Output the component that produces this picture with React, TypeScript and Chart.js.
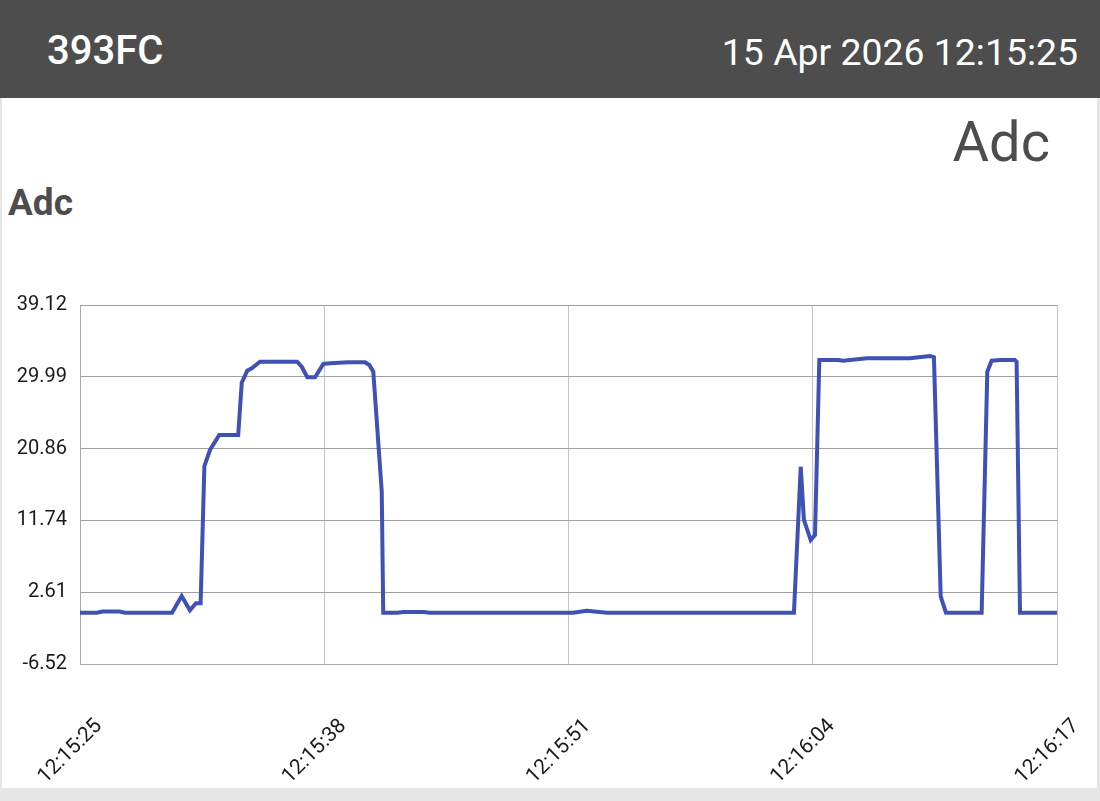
import React, { useEffect, useRef } from "react";
import { Chart, registerables } from "chart.js";

Chart.register(...registerables);

// Elapsed seconds since 12:15:25
const seconds = [
  0, 0.9, 1.2, 2.1, 2.4, 4.9, 5.41, 5.85, 6.17, 6.42, 6.62, 6.92, 7.41, 8.42, 8.61, 8.9, 9.14, 9.58,
  11.56, 11.8, 12.1, 12.51, 12.95, 13.3, 14.28, 15.17, 15.4, 15.61, 16.06, 16.14, 16.9, 17.2, 18.3,
  18.6, 26.24, 26.97, 28.05, 38.0, 38.36, 38.53, 38.89, 39.12, 39.35, 40.36, 40.62, 41.87, 44.17,
  45.24, 45.45, 45.81, 46.09, 47.99, 48.29, 48.52, 48.96, 49.76, 49.85, 50.03, 52,
];
const adcValues = [
  0, 0, 0.15, 0.15, 0, 0, 2.13, 0.3, 1.2, 1.2, 18.65, 20.69, 22.6, 22.6, 29.24, 30.77, 31.07, 31.91,
  31.91, 31.27, 29.93, 29.93, 31.62, 31.71, 31.83, 31.83, 31.49, 30.64, 15.39, 0, 0, 0.1, 0.1,
  0, 0, 0.25, 0, 0, 18.56, 11.79, 9.24, 9.88, 32.13, 32.13, 32.04, 32.34, 32.34,
  32.64, 32.47, 2.08, 0, 0, 30.64, 32.04, 32.13, 32.13, 31.91, 0, 0,
];
const xTickSeconds = [0, 13, 26, 39, 52];
const xTickLabels = ["12:15:25", "12:15:38", "12:15:51", "12:16:04", "12:16:17"];
const yTickValues = [-6.52, 2.61, 11.74, 20.86, 29.99, 39.12];
const yTickLabels = ["-6.52", "2.61", "11.74", "20.86", "29.99", "39.12"];

const deviceName = "393FC";
const timestamp = "15 Apr 2026 12:15:25";
const seriesName = "Adc";

const FONT = "Roboto, 'Noto Sans', sans-serif";

export default function App() {
  const canvasRef = useRef<HTMLCanvasElement | null>(null);

  useEffect(() => {
    if (!canvasRef.current) return;
    const chart = new Chart(canvasRef.current, {
      type: "line",
      data: {
        datasets: [
          {
            label: seriesName,
            data: seconds.map((s, i) => ({ x: s, y: adcValues[i] })),
            borderColor: "#3f51b5",
            borderWidth: 4,
            pointRadius: 0,
            tension: 0,
            fill: false,
          },
        ],
      },
      options: {
        animation: false,
        responsive: false,
        maintainAspectRatio: false,
        layout: { padding: { left: 0, right: 43, top: 207, bottom: 0 } },
        plugins: { legend: { display: false }, tooltip: { enabled: false } },
        scales: {
          x: {
            type: "linear",
            min: xTickSeconds[0],
            max: xTickSeconds[xTickSeconds.length - 1],
            afterBuildTicks: (scale: any) => {
              scale.ticks = xTickSeconds.map((v) => ({ value: v }));
            },
            afterFit: (scale: any) => {
              scale.height = 124;
              scale.paddingLeft = 0;
              scale.paddingRight = 0;
              scale.paddingTop = 0;
              scale.paddingBottom = 0;
            },
            grid: { color: "#c4c4c4", lineWidth: 1, drawTicks: false },
            border: { color: "#a8a8a8", width: 1 },
            ticks: {
              autoSkip: false,
              maxRotation: 45,
              minRotation: 45,
              padding: 50,
              labelOffset: 19,
              color: "#1a1a1a",
              font: { family: FONT, size: 21 },
              callback: (_v: any, i: number) => xTickLabels[i],
            },
          },
          y: {
            type: "linear",
            min: yTickValues[0],
            max: yTickValues[yTickValues.length - 1],
            afterBuildTicks: (scale: any) => {
              scale.ticks = yTickValues.map((v) => ({ value: v }));
            },
            afterFit: (scale: any) => {
              scale.width = 80;
              scale.paddingTop = 0;
              scale.paddingBottom = 0;
            },
            grid: { color: "#a0a0a0", lineWidth: 1, drawTicks: false },
            border: { color: "#a8a8a8", width: 1 },
            ticks: {
              padding: 13,
              color: "#1a1a1a",
              font: { family: FONT, size: 20 },
              callback: (_v: any, i: number) => yTickLabels[i],
            },
          },
        },
      },
    } as any);
    return () => chart.destroy();
  }, []);

  return (
    <div
      style={{
        position: "fixed",
        left: 0,
        top: 0,
        width: 1100,
        height: 801,
        background: "#e6e6e6",
        fontFamily: FONT,
        overflow: "hidden",
      }}
    >
      <div
        style={{
          position: "absolute",
          left: 0,
          top: 0,
          width: 1100,
          height: 98,
          background: "#4d4d4d",
        }}
      >
        <div
          style={{
            position: "absolute",
            left: 47,
            top: 31,
            fontSize: 40,
            lineHeight: 1,
            color: "#fff",
            fontWeight: 500,
          }}
        >
          {deviceName}
        </div>
        <div
          style={{
            position: "absolute",
            right: 22,
            top: 34,
            fontSize: 37.4,
            lineHeight: 1,
            color: "#fff",
          }}
        >
          {timestamp}
        </div>
      </div>
      <div
        style={{
          position: "absolute",
          left: 2,
          top: 98,
          width: 1095,
          height: 690,
          background: "#fff",
        }}
      />
      <div
        style={{
          position: "absolute",
          right: 50,
          top: 114,
          fontSize: 56,
          lineHeight: 1,
          color: "#4d4d4d",
        }}
      >
        {seriesName}
      </div>
      <div
        style={{
          position: "absolute",
          left: 8,
          top: 184,
          fontSize: 37,
          lineHeight: 1,
          fontWeight: 700,
          color: "#4d4d4d",
        }}
      >
        {seriesName}
      </div>
      <canvas
        ref={canvasRef}
        width={1100}
        height={690}
        style={{ position: "absolute", left: 0, top: 98, width: 1100, height: 690 }}
      />
    </div>
  );
}
